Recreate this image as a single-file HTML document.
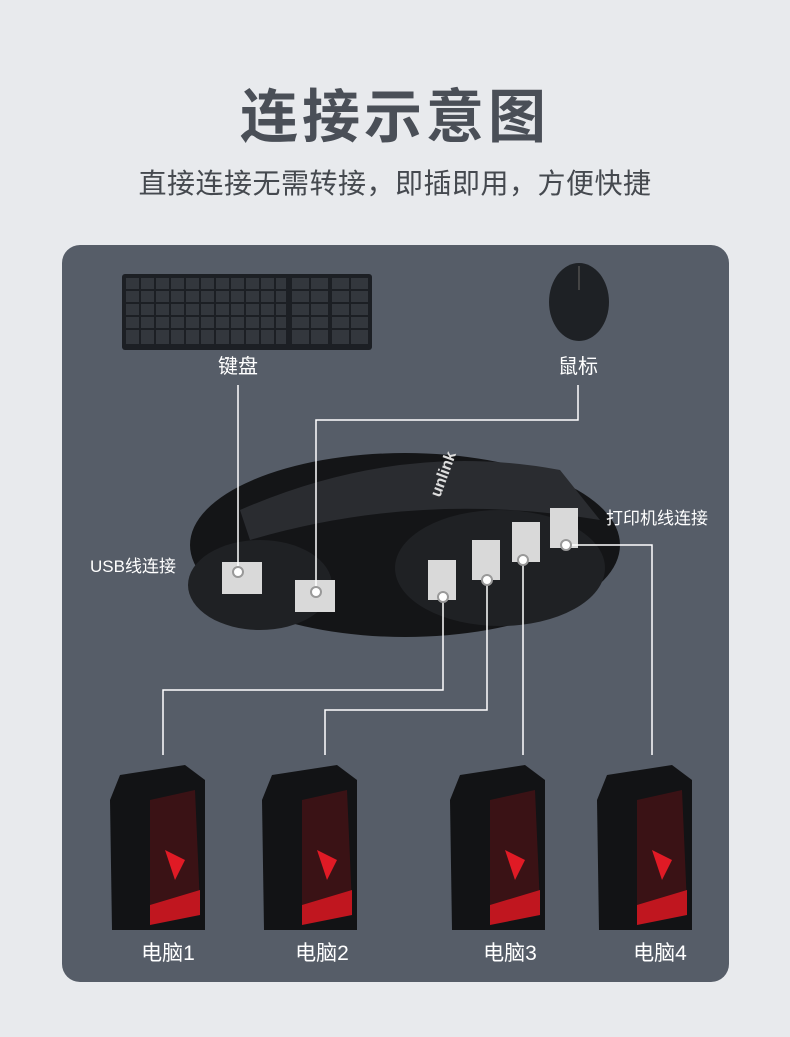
<!DOCTYPE html>
<html><head><meta charset="utf-8"><style>
html,body{margin:0;padding:0}
body{width:790px;height:1037px;background:#e8eaed;position:relative;overflow:hidden;font-family:"Liberation Sans","Noto Sans CJK SC",sans-serif}
.t{position:absolute;left:0;width:790px;text-align:center;color:#4a4f57}
</style></head><body>
<div class="t" style="top:70px;font-size:58px;font-weight:bold;letter-spacing:4px">连接示意图</div>
<div class="t" style="top:162px;font-size:28px;color:#45494f;letter-spacing:0.5px">直接连接无需转接，即插即用，方便快捷</div>
<svg width="790" height="1037" style="position:absolute;left:0;top:0" font-family="Liberation Sans, Noto Sans CJK SC, sans-serif">
<rect x="62" y="245" width="667" height="737" rx="18" fill="#565d68"/>
<!-- keyboard -->
<rect x="122" y="274" width="250" height="76" rx="3" fill="#1c1f24"/>
<g fill="#33373d">
<rect x="126" y="278" width="160" height="66"/><rect x="292" y="278" width="36" height="66"/><rect x="332" y="278" width="36" height="66"/>
</g>
<g stroke="#1c1f24" stroke-width="2">
<line x1="122" y1="290" x2="372" y2="290"/><line x1="122" y1="303" x2="372" y2="303"/><line x1="122" y1="316" x2="372" y2="316"/><line x1="122" y1="329" x2="372" y2="329"/>
</g>
<g stroke="#1c1f24" stroke-width="2">
<line x1="140" y1="278" x2="140" y2="344"/><line x1="155" y1="278" x2="155" y2="344"/><line x1="170" y1="278" x2="170" y2="344"/><line x1="185" y1="278" x2="185" y2="344"/><line x1="200" y1="278" x2="200" y2="344"/><line x1="215" y1="278" x2="215" y2="344"/><line x1="230" y1="278" x2="230" y2="344"/><line x1="245" y1="278" x2="245" y2="344"/><line x1="260" y1="278" x2="260" y2="344"/><line x1="275" y1="278" x2="275" y2="344"/><line x1="310" y1="278" x2="310" y2="344"/><line x1="350" y1="278" x2="350" y2="344"/>
</g>
<!-- mouse -->
<ellipse cx="579" cy="302" rx="30" ry="39" fill="#1e2125"/>
<line x1="579" y1="266" x2="579" y2="290" stroke="#444" stroke-width="2"/>
<text x="238" y="373" fill="#fff" font-size="20" text-anchor="middle">键盘</text>
<text x="578" y="373" fill="#fff" font-size="20" text-anchor="middle">鼠标</text>
<!-- device -->
<ellipse cx="405" cy="545" rx="215" ry="92" fill="#141517"/>
<path d="M240 510 Q400 440 560 470 L600 520 Q420 490 250 540Z" fill="#2a2c30"/>
<ellipse cx="260" cy="585" rx="72" ry="45" fill="#1f2124"/>
<ellipse cx="500" cy="568" rx="105" ry="58" fill="#1f2124"/>
<g fill="#d9d9d9">
<rect x="222" y="562" width="40" height="32"/><rect x="295" y="580" width="40" height="32"/>
<rect x="428" y="560" width="28" height="40"/><rect x="472" y="540" width="28" height="40"/><rect x="512" y="522" width="28" height="40"/><rect x="550" y="508" width="28" height="40"/>
</g>
<text x="440" y="498" fill="#ddd" font-size="16" font-weight="bold" transform="rotate(-70 440 498)">unlink</text>
<text x="90" y="572" fill="#fff" font-size="17">USB线连接</text>
<text x="606" y="524" fill="#fff" font-size="17">打印机线连接</text>
<!-- lines -->
<g stroke="#fff" stroke-width="1.5" fill="none">
<polyline points="238,385 238,572"/>
<polyline points="578,385 578,420 316,420 316,592"/>
<polyline points="443,597 443,690 163,690 163,755"/>
<polyline points="487,580 487,710 325,710 325,755"/>
<polyline points="523,560 523,755"/>
<polyline points="566,545 652,545 652,755"/>
</g>
<g fill="#fff" stroke="#999" stroke-width="2">
<circle cx="238" cy="572" r="5"/><circle cx="316" cy="592" r="5"/><circle cx="443" cy="597" r="5"/><circle cx="487" cy="580" r="5"/><circle cx="523" cy="560" r="5"/><circle cx="566" cy="545" r="5"/>
</g>
<!-- towers -->
<g id="tw">
<path d="M120 775 L185 765 L205 780 L205 930 L112 930 L110 800Z" fill="#121315"/>
<path d="M150 800 L195 790 L200 905 L150 920Z" fill="#3a1215"/>
<path d="M165 850 L185 860 L175 880 Z" fill="#e01a25"/>
<path d="M150 905 L200 890 L200 915 L150 925Z" fill="#c0161f"/>
</g>
<use href="#tw" x="152"/><use href="#tw" x="340"/><use href="#tw" x="487"/>
<g fill="#fff" font-size="21" text-anchor="middle">
<text x="168" y="960">电脑1</text><text x="322" y="960">电脑2</text><text x="510" y="960">电脑3</text><text x="660" y="960">电脑4</text>
</g>
</svg>
</body></html>
